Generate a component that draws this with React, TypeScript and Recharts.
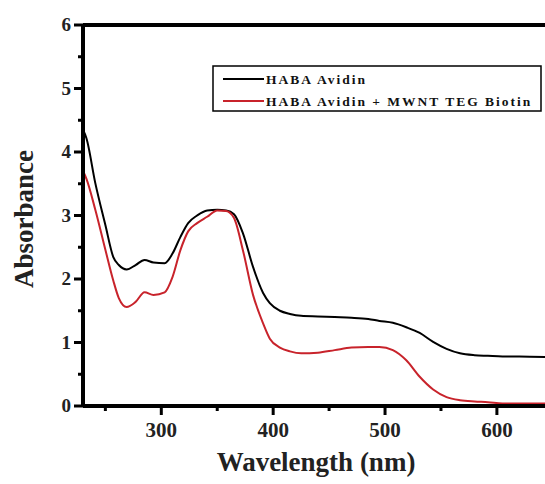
import { LineChart, Line, XAxis, YAxis, ReferenceLine } from 'recharts'

const wavelengths = [230, 233, 241, 250, 257, 262, 269, 277, 285, 293, 303, 310, 317, 324, 332, 341, 350, 358, 365, 373, 382, 391, 397, 406, 415, 425, 440, 455, 470, 485, 495, 507, 519, 531, 543, 555, 567, 580, 592, 605, 620, 643]
const habaAvidin = [4.35, 4.22, 3.51, 2.85, 2.35, 2.22, 2.15, 2.22, 2.3, 2.26, 2.25, 2.4, 2.66, 2.88, 3.0, 3.08, 3.09, 3.08, 3.02, 2.72, 2.19, 1.78, 1.62, 1.5, 1.45, 1.42, 1.41, 1.4, 1.39, 1.37, 1.34, 1.31, 1.24, 1.15, 1.01, 0.9, 0.83, 0.8, 0.79, 0.78, 0.78, 0.77]
const habaAvidinBiotin = [3.7, 3.58, 3.09, 2.46, 1.98, 1.7, 1.56, 1.64, 1.79, 1.75, 1.79, 2.03, 2.45, 2.75, 2.88, 2.98, 3.08, 3.07, 2.96, 2.45, 1.75, 1.3, 1.06, 0.92, 0.86, 0.83, 0.84, 0.88, 0.92, 0.93, 0.93, 0.88, 0.72, 0.46, 0.26, 0.14, 0.09, 0.07, 0.06, 0.04, 0.04, 0.04]
const xTicks = [250, 300, 350, 400, 450, 500, 550, 600]
const xLabels = [300, 400, 500, 600]
const yTicks = [0, 0.5, 1, 1.5, 2, 2.5, 3, 3.5, 4, 4.5, 5, 5.5, 6]
const legendNames = ['HABA Avidin', 'HABA Avidin + MWNT TEG Biotin']

const data = wavelengths.map((w, i) => ({ w, a: habaAvidin[i], b: habaAvidinBiotin[i] }))

const serif = '"Liberation Serif", "Times New Roman", serif'
const RED = '#c8232b'

function XTick({ x, y, payload }: any) {
  const major = xLabels.includes(payload.value)
  return (
    <g>
      <line x1={x} x2={x} y1={y} y2={y + (major ? 9 : 5)} stroke="#000" strokeWidth={3} />
      {major && (
        <text x={x} y={y + 31} textAnchor="middle" fontFamily={serif} fontWeight="bold" fontSize={21} fill="#222">
          {payload.value}
        </text>
      )}
    </g>
  )
}

function YTick({ x, y, payload }: any) {
  const major = Number.isInteger(payload.value)
  return (
    <g>
      <line x1={x - (major ? 9 : 5)} x2={x} y1={y} y2={y} stroke="#000" strokeWidth={3} />
      {major && (
        <text x={x - 12} y={y + 6} textAnchor="end" fontFamily={serif} fontWeight="bold" fontSize={19} fill="#222">
          {payload.value}
        </text>
      )}
    </g>
  )
}

export default function App() {
  return (
    <div style={{ position: 'absolute', left: 0, top: 0, width: 545, height: 484, background: '#fff' }}>
      <LineChart width={545} height={484} data={data} margin={{ top: 25, right: 0, bottom: 77, left: 82 }}>
        <XAxis dataKey="w" type="number" domain={[230, 643]} allowDataOverflow ticks={xTicks}
          axisLine={{ stroke: '#000', strokeWidth: 4 }} tickLine={false} tickSize={0} tickMargin={0} height={1} tick={<XTick />} />
        <YAxis type="number" domain={[0, 6]} ticks={yTicks} width={1}
          axisLine={{ stroke: '#000', strokeWidth: 4 }} tickLine={false} tickSize={0} tickMargin={0} tick={<YTick />} />
        <ReferenceLine y={6} stroke="#000" strokeWidth={4} />
        <Line dataKey="a" stroke="#000" strokeWidth={2} dot={false} type="monotone" isAnimationActive={false} />
        <Line dataKey="b" stroke={RED} strokeWidth={2} dot={false} type="monotone" isAnimationActive={false} />
      </LineChart>
      <svg width={545} height={484} style={{ position: 'absolute', left: 0, top: 0, pointerEvents: 'none' }}>
        <text transform="translate(33,219) rotate(-90)" textAnchor="middle" fontFamily={serif} fontWeight="bold" fontSize={27} fill="#222">
          Absorbance
        </text>
        <text x={316} y={471} textAnchor="middle" fontFamily={serif} fontWeight="bold" fontSize={27} fill="#222">
          Wavelength (nm)
        </text>
        <rect x={213} y={66} width={328} height={45} fill="#fff" stroke="#000" strokeWidth={1.5} />
        {legendNames.map((name, i) => (
          <g key={name}>
            <line x1={223} x2={264} y1={79 + i * 22} y2={79 + i * 22} stroke={i === 0 ? '#000' : RED} strokeWidth={2} />
            <text x={266} y={84 + i * 22} fontFamily={serif} fontWeight="bold" fontSize={13.5} letterSpacing={2} fill="#111">
              {name}
            </text>
          </g>
        ))}
      </svg>
    </div>
  )
}
